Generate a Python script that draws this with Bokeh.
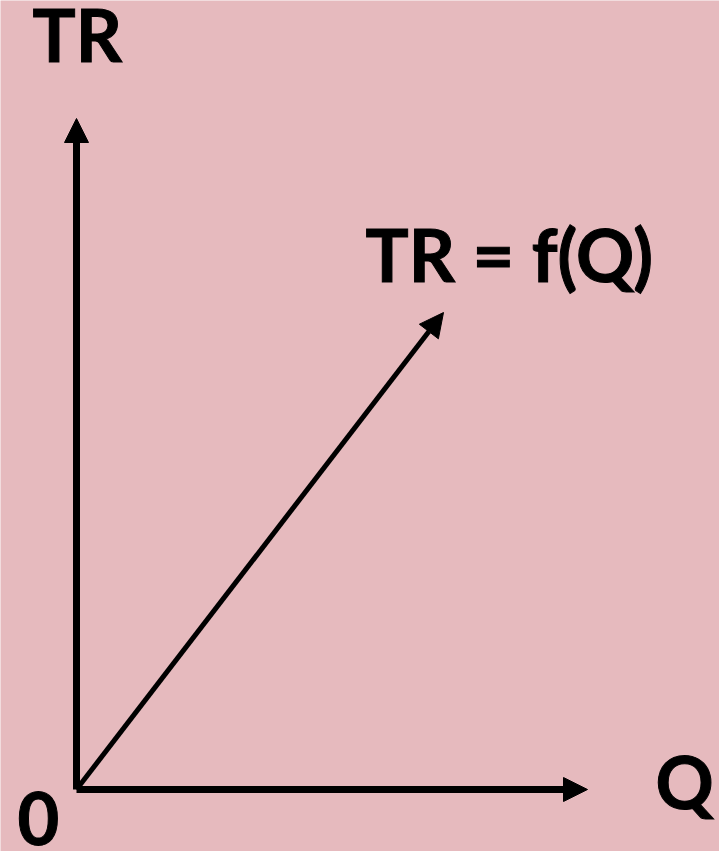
from bokeh.plotting import figure
from bokeh.models import Arrow, NormalHead, Label, Range1d
from bokeh.embed import file_html
from bokeh.resources import INLINE

# Total revenue as a function of quantity: TR = f(Q), a straight line from the origin
q_axis_end = 511          # length of the Q axis
tr_axis_end = 671         # length of the TR axis
tr_line_q = [0, 367]      # quantity at start and end of the TR line
tr_line_tr = [0, 477]     # revenue at start and end of the TR line

labels_text = ["TR", "TR = f(Q)", "Q", "0"]
labels_x = [-44, 289, 579, -59]
labels_y = [756, 536, 9, -29]

bg = "#e6babe"

p = figure(width=719, height=851, output_backend="svg", toolbar_location=None,
           x_range=Range1d(-76, 643), y_range=Range1d(-62, 789),
           min_border=0, background_fill_color=bg, border_fill_color=bg)
p.axis.visible = False
p.grid.visible = False
p.outline_line_color = None

def head():
    return NormalHead(size=24, fill_color="black", line_color="black", line_width=1)

# Q axis
p.add_layout(Arrow(end=head(), x_start=0, y_start=0, x_end=q_axis_end, y_end=0,
                   line_width=7, line_color="black"))
# TR axis
p.add_layout(Arrow(end=head(), x_start=0, y_start=0, x_end=0, y_end=tr_axis_end,
                   line_width=7, line_color="black"))
# TR = f(Q)
p.add_layout(Arrow(end=head(), x_start=tr_line_q[0], y_start=tr_line_tr[0],
                   x_end=tr_line_q[1], y_end=tr_line_tr[1],
                   line_width=5, line_color="black"))

sizes = ["72px", "72px", "72px", "72px"]
for t, x, y, s in zip(labels_text, labels_x, labels_y, sizes):
    p.add_layout(Label(x=x, y=y, text=t, text_font="Lato", text_font_style="bold",
                       text_font_size=s, text_color="black", text_baseline="alphabetic",
                       text_outline_color="black"))

open("out.html", "w").write(file_html(p, INLINE))
